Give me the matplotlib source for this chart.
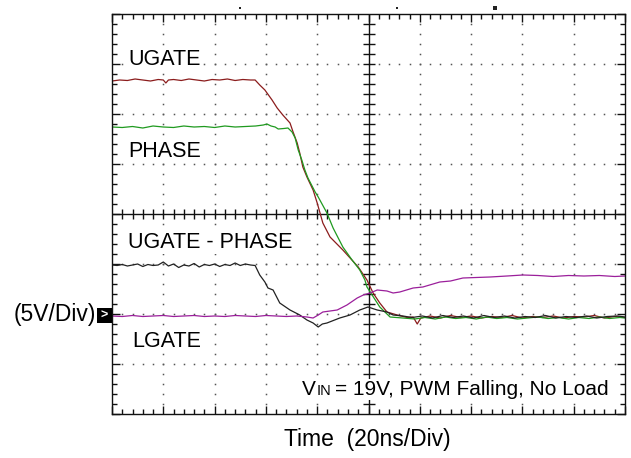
import numpy as np
import matplotlib
matplotlib.use("Agg")
from matplotlib import pyplot as plt
from matplotlib.patches import Rectangle
from matplotlib.lines import Line2D

plt.rcParams['font.family'] = ['Liberation Sans', 'DejaVu Sans']

# scope traces, (time in div, level in div from bottom)
ugate = [(0.0, 6.66), (0.15, 6.68), (0.3, 6.67), (0.45, 6.70), (0.6, 6.68), (0.75, 6.66),
         (0.9, 6.69), (1.0, 6.68), (1.05, 6.62), (1.1, 6.68), (1.2, 6.69), (1.35, 6.67),
         (1.5, 6.70), (1.65, 6.68), (1.8, 6.66), (1.95, 6.69), (2.1, 6.68), (2.25, 6.70),
         (2.4, 6.67), (2.55, 6.69), (2.7, 6.68), (2.79, 6.68), (2.88, 6.58), (2.98, 6.48),
         (3.12, 6.28), (3.22, 6.12), (3.33, 5.98), (3.47, 5.82), (3.53, 5.64), (3.61, 5.42),
         (3.66, 5.22), (3.72, 4.94), (3.80, 4.74), (3.92, 4.48), (4.0, 4.22), (4.11, 3.82),
         (4.25, 3.54), (4.5, 3.28), (4.8, 2.94), (4.97, 2.68), (5.09, 2.42), (5.22, 2.22),
         (5.36, 2.04), (5.56, 1.98), (5.75, 1.93), (5.87, 1.94), (5.95, 1.80), (6.02, 1.92),
         (6.2, 1.96), (6.4, 1.92), (6.6, 1.97), (6.8, 1.93), (7.0, 1.96), (7.2, 1.92),
         (7.4, 1.95), (7.6, 1.93), (7.8, 1.97), (8.0, 1.92), (8.2, 1.95), (8.4, 1.93),
         (8.6, 1.96), (8.8, 1.92), (9.0, 1.95), (9.2, 1.94), (9.4, 1.97), (9.6, 1.92),
         (9.8, 1.95), (10.0, 1.93)]

phase = [(0.0, 5.74), (0.2, 5.73), (0.4, 5.75), (0.6, 5.72), (0.8, 5.76), (1.0, 5.74),
         (1.2, 5.73), (1.4, 5.76), (1.6, 5.74), (1.8, 5.75), (2.0, 5.73), (2.2, 5.76),
         (2.4, 5.74), (2.6, 5.75), (2.8, 5.76), (2.95, 5.78), (3.02, 5.80), (3.1, 5.76),
         (3.18, 5.74), (3.24, 5.70), (3.35, 5.71), (3.43, 5.72), (3.51, 5.64), (3.57, 5.52),
         (3.63, 5.28), (3.70, 5.08), (3.76, 4.88), (3.82, 4.72), (3.96, 4.44), (4.02, 4.34),
         (4.19, 4.02), (4.31, 3.72), (4.50, 3.34), (4.68, 3.08), (4.83, 2.88), (4.93, 2.68),
         (4.97, 2.54), (5.07, 2.38), (5.22, 2.14), (5.42, 1.94), (5.67, 1.92), (5.9, 1.90),
         (6.1, 1.93), (6.3, 1.90), (6.5, 1.94), (6.7, 1.91), (6.9, 1.93), (7.1, 1.90),
         (7.3, 1.94), (7.5, 1.91), (7.7, 1.93), (7.9, 1.90), (8.1, 1.92), (8.3, 1.94),
         (8.5, 1.91), (8.7, 1.93), (8.9, 1.90), (9.1, 1.93), (9.3, 1.91), (9.5, 1.94),
         (9.7, 1.91), (9.9, 1.93), (10.0, 1.92)]

ug_minus_ph = [(0.0, 2.98), (0.1, 2.97), (0.2, 2.99), (0.3, 2.96), (0.4, 2.98), (0.5, 3.00),
               (0.6, 2.95), (0.7, 2.99), (0.8, 2.97), (0.9, 2.98), (1.0, 3.04), (1.1, 2.96),
               (1.2, 3.00), (1.3, 2.93), (1.4, 2.98), (1.5, 2.96), (1.6, 3.01), (1.7, 2.94),
               (1.8, 2.99), (1.9, 2.97), (2.0, 3.00), (2.1, 2.95), (2.2, 2.99), (2.3, 2.97),
               (2.4, 3.02), (2.5, 2.97), (2.6, 3.00), (2.7, 2.98), (2.79, 2.97), (2.88, 2.78),
               (2.98, 2.64), (3.04, 2.52), (3.14, 2.48), (3.24, 2.28), (3.27, 2.22), (3.47, 2.08),
               (3.66, 1.98), (3.80, 1.88), (3.92, 1.82), (4.02, 1.74), (4.1, 1.80), (4.19, 1.82),
               (4.44, 1.92), (4.64, 1.98), (4.83, 2.08), (4.99, 2.14), (5.17, 2.08), (5.36, 2.04),
               (5.48, 1.98), (5.67, 1.96), (5.85, 1.93), (6.05, 1.96), (6.25, 1.92), (6.45, 1.97),
               (6.65, 1.93), (6.85, 1.96), (7.05, 1.92), (7.25, 1.97), (7.45, 1.93), (7.65, 1.96),
               (7.85, 1.92), (8.05, 1.95), (8.25, 1.93), (8.45, 1.97), (8.65, 1.92), (8.85, 1.95),
               (9.05, 1.93), (9.25, 1.96), (9.45, 1.92), (9.65, 1.95), (9.85, 1.96), (10.0, 1.94)]

lgate = [(0.0, 1.96), (0.2, 1.95), (0.4, 1.97), (0.6, 1.95), (0.8, 1.96), (1.0, 1.97),
         (1.2, 1.95), (1.4, 1.96), (1.6, 1.97), (1.8, 1.95), (2.0, 1.96), (2.2, 1.95),
         (2.4, 1.97), (2.6, 1.96), (2.8, 1.95), (3.0, 1.97), (3.2, 1.96), (3.4, 1.95),
         (3.6, 1.96), (3.8, 1.94), (3.92, 1.92), (4.02, 1.98), (4.11, 2.04), (4.25, 2.06),
         (4.39, 2.08), (4.58, 2.18), (4.78, 2.32), (4.90, 2.38), (5.03, 2.42), (5.17, 2.48),
         (5.36, 2.46), (5.48, 2.42), (5.61, 2.44), (5.87, 2.52), (6.06, 2.54), (6.39, 2.64),
         (6.6, 2.66), (6.84, 2.72), (7.1, 2.73), (7.37, 2.74), (7.7, 2.76), (8.01, 2.78),
         (8.3, 2.77), (8.6, 2.75), (8.9, 2.77), (9.2, 2.76), (9.5, 2.77), (9.8, 2.75),
         (10.0, 2.76)]

traces = [(ugate, '#8b1c1c'), (phase, '#1f9a1f'), (ug_minus_ph, '#222222'), (lgate, '#9b1f9b')]

# trace labels: text, x, baseline y (div)
labels = [("UGATE", 0.31, 6.98), ("PHASE", 0.31, 5.14),
          ("UGATE - PHASE", 0.31, 3.32), ("LGATE", 0.39, 1.34)]

fig = plt.figure(figsize=(6.31, 4.58), dpi=100)
fig.patch.set_facecolor('white')
ax = fig.add_axes([112 / 631, 44 / 458, 513 / 631, 400 / 458])
ax.set_xlim(0, 10)
ax.set_ylim(0, 8)

# dotted graticule
for gx in [1, 2, 3, 4, 6, 7, 8, 9]:
    ys = np.arange(0.2, 8, 0.2)
    ax.plot(np.full_like(ys, gx), ys, ls='none', marker='s', ms=1.1, mew=0, color='#555555')
for gy in [1, 2, 3, 5, 6, 7]:
    xs = np.arange(0.2, 10, 0.2)
    ax.plot(xs, np.full_like(xs, gy), ls='none', marker='s', ms=1.1, mew=0, color='#555555')

# centre cross with ticks
ax.axvline(5, color='#111111', lw=1.0)
ax.axhline(4, color='#111111', lw=1.0)
xs = np.arange(0.2, 10, 0.2)
ax.plot(xs, np.full_like(xs, 4), ls='none', marker='|', ms=7, mew=1, color='#111111')
ys = np.arange(0.2, 8, 0.2)
ax.plot(np.full_like(ys, 5), ys, ls='none', marker='_', ms=9, mew=1, color='#111111')

for data, col in traces:
    arr = np.array(data)
    ax.plot(arr[:, 0], arr[:, 1], color=col, lw=0.9, zorder=3)

box = dict(facecolor='white', edgecolor='none', pad=1.0)
for txt, x, y in labels:
    ax.text(x, y, txt, fontsize=15.5, va='baseline', ha='left', color='black',
            bbox=box, zorder=4)

ax.text(3.70, 0.38, "V", fontsize=15, va='baseline', ha='left', bbox=box, zorder=4)
ax.text(3.99, 0.38, "IN", fontsize=10.5, va='baseline', ha='left', bbox=box, zorder=4)
ax.text(4.34, 0.38, "= 19V, PWM Falling, No Load", fontsize=15, va='baseline', ha='left',
        bbox=box, zorder=4)

# border ticks
ax.set_xticks(np.arange(0, 11, 1))
ax.set_yticks(np.arange(0, 9, 1))
ax.set_xticks(np.arange(0, 10.01, 0.2), minor=True)
ax.set_yticks(np.arange(0, 8.01, 0.2), minor=True)
ax.tick_params(which='both', direction='in', top=True, right=True,
               labelbottom=False, labelleft=False, color='#111111', width=1)
ax.tick_params(which='major', length=6)
ax.tick_params(which='minor', length=3.5)
for sp in ax.spines.values():
    sp.set_color('#111111')
    sp.set_linewidth(1.0)
    sp.set_zorder(5)

fig.text(367.5 / 631, 1 - 446 / 458, "Time  (20ns/Div)", fontsize=16.5,
         ha='center', va='baseline')
fig.text(96 / 631, 1 - 314 / 458, "(5V/Div)", fontsize=16.5, ha='right', va='center')

# ground marker
fig.add_artist(Rectangle((97 / 631, 1 - 323 / 458), 15 / 631, 15 / 458,
                         transform=fig.transFigure, facecolor='black', edgecolor='none'))
fig.text(104.5 / 631, 1 - 315.5 / 458, ">", fontsize=9, color='white',
         ha='center', va='center', fontweight='bold')

# trigger marks on top
for mx, ms in [(240, 1.5), (397, 1.5), (495, 2.5)]:
    fig.add_artist(Line2D([mx / 631], [1 - 8 / 458], transform=fig.transFigure,
                          marker='s', ms=ms, mew=0, color='#222222'))

fig.savefig("out.png", dpi=100, facecolor='white')
